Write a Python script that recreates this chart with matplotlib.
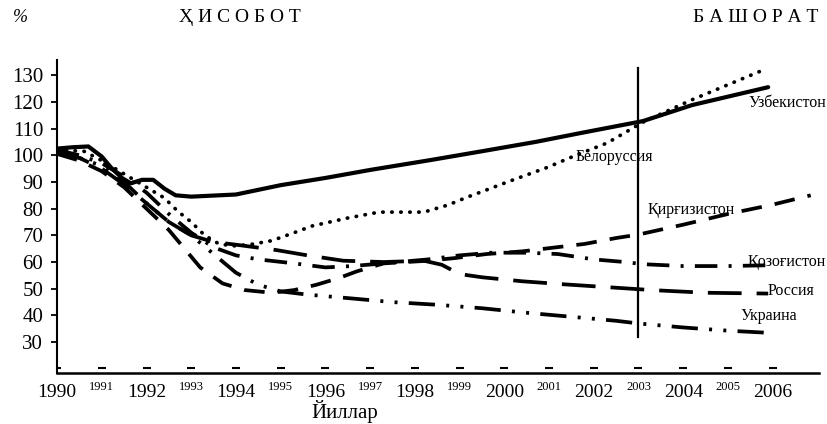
import matplotlib
matplotlib.use('Agg')
import matplotlib.pyplot as plt

plt.rcParams['font.family'] = ['Liberation Serif', 'DejaVu Serif']

# оси
years_big = [1990, 1992, 1994, 1996, 1998, 2000, 2002, 2004, 2006]
years_small = [1991, 1993, 1995, 1997, 1999, 2001, 2003, 2005]
yticks = [30, 40, 50, 60, 70, 80, 90, 100, 110, 120, 130]
split_year = 2003

# Узбекистон
uzb_x = [1990.0, 1990.35, 1990.7, 1991.0, 1991.2, 1991.45, 1991.65, 1991.9, 1992.15,
         1992.4, 1992.65, 1993.0, 1994.0, 1995.0, 1996.0, 1997.0, 1998.35, 1999.5,
         2000.7, 2001.7, 2003.1, 2004.2, 2005.9]
uzb_y = [102.5, 103.0, 103.3, 99.5, 95.5, 91.5, 89.5, 90.8, 90.8, 87.5, 85.0, 84.5,
         85.3, 88.8, 91.5, 94.5, 98.2, 101.5, 105.0, 108.3, 112.8, 118.8, 125.5]

# Белоруссия
blr_x = [1990.0, 1990.6, 1991.0, 1991.5, 1992.0, 1992.4, 1992.7, 1993.0, 1993.3, 1993.6,
         1993.9, 1994.3, 1994.8, 1995.3, 1995.7, 1996.5, 1997.2, 1998.2, 1998.73,
         1999.17, 1999.6, 2000.07, 2000.97, 2001.6, 2002.3, 2003.1, 2004.17, 2005.8]
blr_y = [102, 101.5, 98, 93, 88, 84, 79, 75, 70, 67, 66, 66.5, 68, 71, 73.5, 76.5,
         78.7, 78.7, 81.3, 84.3, 87, 90, 95.5, 100, 104.6, 112.4, 120.6, 132]

# Киргизистон
kgz_x = [1990.0, 1990.5, 1991.0, 1991.5, 1992.0, 1992.5, 1992.8, 1993.2, 1993.7, 1994.2,
         1994.8, 1995.3, 1995.8, 1996.3, 1996.7, 1997.3, 1998.3, 1998.9, 1999.6, 2000.4,
         2001.2, 2001.8, 2002.5, 2003.0, 2004.0, 2005.0, 2006.0, 2006.85]
kgz_y = [100.5, 98, 94, 88, 80, 72, 66, 58, 52, 49.5, 48.5, 49.5, 51.5, 54, 56.5, 59.5,
         60.5, 61.5, 63, 64, 65.6, 66.8, 69, 70.3, 74, 78, 81.5, 85]

# Козогистон
kaz_x = [1990.0, 1990.5, 1991.0, 1991.5, 1992.0, 1992.5, 1993.0, 1993.5, 1994.0, 1994.5,
         1995.3, 1996.0, 1996.6, 1997.3, 1998.3, 1999.0, 1999.7, 2000.5, 2001.2, 2002.0,
         2002.7, 2003.1, 2004.0, 2005.0, 2005.9]
kaz_y = [102, 100, 97, 92, 86, 78, 71, 65.5, 62.5, 61, 59.5, 58, 58.5, 59.5, 61, 62.5,
         63.5, 63.5, 63, 61, 60, 59.2, 58.5, 58.5, 58.8]

# Россия
rus_x = [1990.0, 1990.5, 1991.0, 1991.5, 1992.0, 1992.5, 1993.0, 1993.5, 1994.0, 1994.9,
         1995.6, 1996.4, 1997.3, 1998.2, 1998.6, 1999.0, 1999.5, 2000.4, 2001.3, 2002.3,
         2003.3, 2004.5, 2005.9]
rus_y = [101.5, 99, 95, 89, 82, 75, 70, 67.5, 66.5, 64.5, 62.5, 60.5, 60, 60.5, 59, 55.5,
         54.3, 52.8, 51.7, 50.6, 49.5, 48.5, 48.2]

# Украина
ukr_x = [1990.0, 1990.5, 1991.0, 1991.5, 1992.0, 1992.5, 1993.0, 1993.5, 1994.0, 1994.5,
         1995.0, 1995.6, 1996.5, 1997.5, 1998.5, 1999.5, 2000.5, 2001.5, 2002.5, 2003.0,
         2004.0, 2005.0, 2005.9]
ukr_y = [101, 99, 96, 90, 82, 75, 70, 63, 56, 51.5, 49, 47.8, 46.5, 45, 44, 42.7, 41,
         39.5, 38, 37, 35.5, 34.3, 33.5]

fig = plt.figure(figsize=(8.27, 4.24), dpi=100)
ax = fig.add_axes([0.069, 0.12, 0.921, 0.738])

lw = 2.7
ax.plot(uzb_x, uzb_y, color='black', lw=lw + 0.3, solid_capstyle='round')
ax.plot(blr_x, blr_y, color='black', lw=lw, dashes=(0.1, 2.3), dash_capstyle='round')
ax.plot(kgz_x, kgz_y, color='black', lw=lw, dashes=(5.5, 3.5))
ax.plot(kaz_x, kaz_y, color='black', lw=lw, dashes=(6, 3, 0.8, 3))
ax.plot(rus_x, rus_y, color='black', lw=lw, dashes=(9, 4))
ax.plot(ukr_x, ukr_y, color='black', lw=lw, dashes=(7, 3, 0.8, 3, 0.8, 3))

# граница отчёт / прогноз
ax.plot([split_year, split_year], [31.9, 132.6], color='black', lw=1.6)

# подписи стран
lab = dict(fontsize=11.5, color='black', va='center', ha='left')
ax.text(2005.46, 119.5, 'Узбекистон', **lab)
ax.text(2001.59, 99.3, 'Белоруссия', **lab)
ax.text(2003.2, 79.4, 'Қирғизистон', **lab)
ax.text(2005.44, 60.0, 'Қозоғистон', **lab)
ax.text(2005.89, 49.1, 'Россия', **lab)
ax.text(2005.28, 39.7, 'Украина', **lab)

# мелкие штрихи вдоль оси
all_years = sorted(years_big + years_small)
ax.plot(all_years, [20.3] * len(all_years), ls='none', marker='_', ms=6, mew=1.5, color='black')

ax.set_xlim(1990.0, 2007.03)
ax.set_ylim(18.4, 135.6)
ax.spines['top'].set_visible(False)
ax.spines['right'].set_visible(False)
ax.spines['left'].set_linewidth(1.5)
ax.spines['bottom'].set_linewidth(1.8)

ax.set_yticks(yticks)
ax.set_yticklabels([str(v) for v in yticks], fontsize=15)
ax.tick_params(axis='y', length=4, width=1.3, pad=6)

ax.set_xticks(years_big)
ax.set_xticklabels([str(v) for v in years_big], fontsize=14)
ax.set_xticks(years_small, minor=True)
ax.set_xticklabels([str(v) for v in years_small], minor=True, fontsize=9)
ax.tick_params(axis='x', which='major', length=0, pad=8)
ax.tick_params(axis='x', which='minor', length=0, pad=6)

fig.text(20 / 827, 1 - 18 / 424, '%', fontsize=13, style='italic', ha='center', va='center')
fig.text(240 / 827, 1 - 18 / 424, 'Ҳ И С О Б О Т', fontsize=14, ha='center', va='center')
fig.text(756 / 827, 1 - 18 / 424, 'Б А Ш О Р А Т', fontsize=14, ha='center', va='center')
fig.text(345 / 827, 1 / 424, 'Йиллар', fontsize=15, ha='center', va='bottom')

fig.savefig('out.png', dpi=100)
